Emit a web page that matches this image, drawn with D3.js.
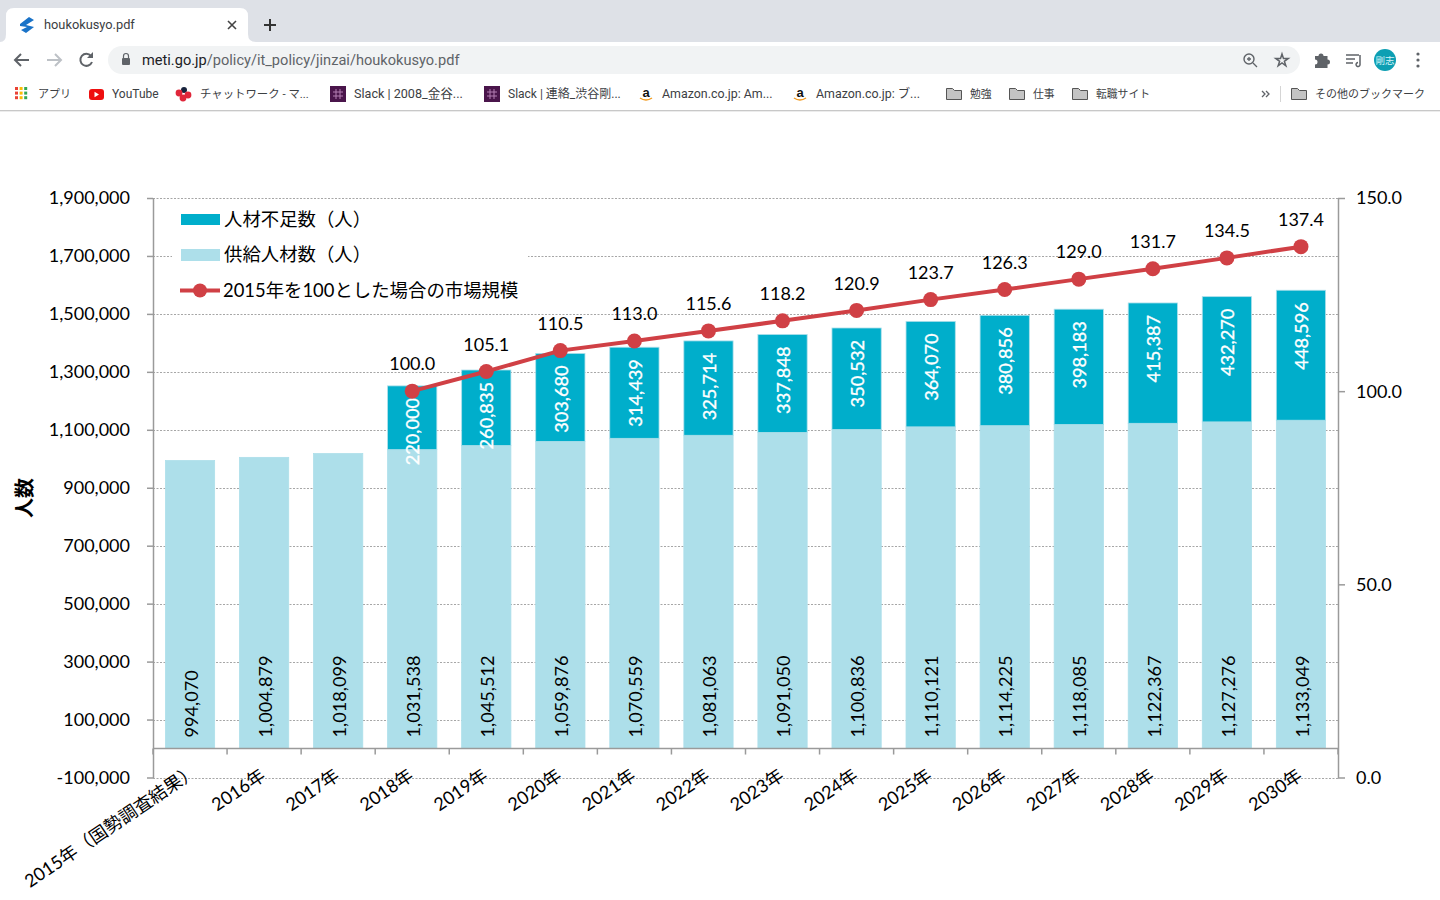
<!DOCTYPE html>
<html lang="ja">
<head>
<meta charset="utf-8">
<title>houkokusyo.pdf</title>
<script src="https://cdn.jsdelivr.net/npm/d3@7/dist/d3.min.js"></script>
<style>
html,body{margin:0;padding:0;background:#fff;overflow:hidden}
svg{display:block}
.ch{font-family:Lato,"Noto Sans CJK JP",sans-serif;fill:#000}
.ui{font-family:Roboto,"Noto Sans CJK JP",sans-serif;fill:#3c4043}
</style>
</head>
<body>
<svg id="c" width="1440" height="900"></svg>
<script>
// ---- chart data ----
const categories = ["2015年（国勢調査結果）","2016年","2017年","2018年","2019年","2020年","2021年","2022年","2023年","2024年","2025年","2026年","2027年","2028年","2029年","2030年"];
const supply = [994070,1004879,1018099,1031538,1045512,1059876,1070559,1081063,1091050,1100836,1110121,1114225,1118085,1122367,1127276,1133049];
const shortage = [null,null,null,220000,260835,303680,314439,325714,337848,350532,364070,380856,398183,415387,432270,448596];
const market = [null,null,null,100.0,105.1,110.5,113.0,115.6,118.2,120.9,123.7,126.3,129.0,131.7,134.5,137.4];
const leftTicks = [-100000,100000,300000,500000,700000,900000,1100000,1300000,1500000,1700000,1900000];
const leftTickLabels = ["-100,000","100,000","300,000","500,000","700,000","900,000","1,100,000","1,300,000","1,500,000","1,700,000","1,900,000"];
const rightTicks = [0,50,100,150];
const legendLabels = ["人材不足数（人）","供給人材数（人）","2015年を100とした場合の市場規模"];
const yAxisTitle = "人数";
// ---- browser frame text ----
const bookmarkLabels = ["アプリ","YouTube","チャットワーク - マ...","Slack | 2008_金谷...","Slack | 連絡_渋谷剛...","Amazon.co.jp: Am...","Amazon.co.jp: ブ...","勉強","仕事","転職サイト","その他のブックマーク"];
const tabTitle = "houkokusyo.pdf";
const urlHost = "meti.go.jp";
const urlPath = "/policy/it_policy/jinzai/houkokusyo.pdf";

const COL_SHORT="#00aecb", COL_SUP="#addfea", COL_LINE="#d04045", COL_AXIS="#9a9a9a", COL_GRID="#a6a6a6";
const svg=d3.select("#c");

/* ---------- browser frame ---------- */
const ui=svg.append("g");
ui.append("rect").attr("width",1440).attr("height",42).attr("fill","#dee1e7");
ui.append("path").attr("d","M0 42 Q6 42 6 34 V16 Q6 8 14 8 H240 Q248 8 248 16 V34 Q248 42 256 42 Z").attr("fill","#fff");
ui.append("rect").attr("y",42).attr("width",1440).attr("height",68).attr("fill","#fff");
ui.append("rect").attr("x",108).attr("y",46).attr("width",1192).attr("height",28).attr("rx",14).attr("fill","#f1f3f4");
ui.append("rect").attr("y",110).attr("width",1440).attr("height",1).attr("fill","#c8c8c8");
ui.append("rect").attr("y",111).attr("width",1440).attr("height",1).attr("fill","#ececec");
// favicon
ui.append("path").attr("d","M20 24 L29 17 L34 20 L26 25 L34 27 L26 33 L21 30 L27 27 L20 26 Z").attr("fill","#1a73c8");
ui.append("text").attr("class","ui").attr("x",44).attr("y",29).attr("font-size",12.8).text(tabTitle);
ui.append("path").attr("d","M228 21 l8 8 m0 -8 l-8 8").attr("stroke","#444").attr("stroke-width",1.6).attr("fill","none");
ui.append("path").attr("d","M270 19 v12 m-6 -6 h12").attr("stroke","#333").attr("stroke-width",2).attr("fill","none");
// nav
ui.append("path").attr("d","M29 60 H16 m5 -6 l-6 6 l6 6").attr("stroke","#5f6368").attr("stroke-width",2).attr("fill","none");
ui.append("path").attr("d","M47 60 H60 m-5 -6 l6 6 l-6 6").attr("stroke","#bdc1c6").attr("stroke-width",2).attr("fill","none");
ui.append("path").attr("d","M91 56 A6 6 0 1 0 92 62").attr("stroke","#5f6368").attr("stroke-width",2).attr("fill","none");
ui.append("path").attr("d","M93 52 v6 h-6 Z").attr("fill","#5f6368");
ui.append("rect").attr("x",122).attr("y",58).attr("width",8).attr("height",7).attr("rx",1).attr("fill","#5f6368");
ui.append("path").attr("d","M123.5 58 v-2 a2.5 2.5 0 0 1 5 0 v2").attr("stroke","#5f6368").attr("stroke-width",1.2).attr("fill","none");
const urlText=ui.append("text").attr("class","ui").attr("x",142).attr("y",65).attr("font-size",14.6);
urlText.append("tspan").style("fill","#202124").text(urlHost);
urlText.append("tspan").style("fill","#5f6368").text(urlPath);
// right tools
ui.append("circle").attr("cx",1249).attr("cy",59).attr("r",5).attr("fill","none").attr("stroke","#5f6368").attr("stroke-width",1.4);
ui.append("path").attr("d","M1253 63 l4 4 M1247 59 h4 M1249 57 v4").attr("stroke","#5f6368").attr("stroke-width",1.3);
ui.append("path").attr("d",d3.symbol(d3.symbolStar,48)()).attr("transform","translate(1282,60.5)").attr("fill","none").attr("stroke","#5f6368").attr("stroke-width",1.5);
ui.append("path").attr("d","M1315 56 h3.5 a2.5 2.5 0 0 1 5 0 h4 v3.5 a2.5 2.5 0 0 1 0 5 v3.5 h-12.5 v-3.5 a2.5 2.5 0 0 0 0 -5 Z").attr("fill","#5f6368");
ui.append("path").attr("d","M1346 55 h13 M1346 59 h9 M1346 63 h7 M1360 55 v9 a2 2 0 1 1 -2 -1.5").attr("stroke","#5f6368").attr("stroke-width",1.5).attr("fill","none");
ui.append("circle").attr("cx",1385).attr("cy",60).attr("r",11).attr("fill","#0d9fb3");
ui.append("text").attr("class","ui").attr("x",1385).attr("y",64).attr("text-anchor","middle").attr("font-size",9.5).style("fill","#d8f4f8").text("剛志");
ui.selectAll("circle.dot").data([54,60,66]).join("circle").attr("class","dot").attr("cx",1418).attr("cy",d=>d).attr("r",1.6).attr("fill","#5f6368");
// bookmarks
const bmX=[38,112,200,354,508,662,816,970,1033,1096,1315];
const bmSize=[11,12,11.4,12.6,12,12.4,12.4,10.8,10.8,10.8,11];
ui.selectAll("text.bm").data(bookmarkLabels).join("text").attr("class","ui bm")
  .attr("x",(d,i)=>bmX[i]).attr("y",98).attr("font-size",(d,i)=>bmSize[i]).text(d=>d);
// apps grid
const gridCols=["#e94235","#fbbc04","#34a853","#4285f4"];
d3.range(9).forEach(i=>ui.append("rect").attr("x",15+(i%3)*4.6).attr("y",87+Math.floor(i/3)*4.6).attr("width",3).attr("height",3).attr("fill",gridCols[(i+Math.floor(i/3))%4]));
// youtube
ui.append("rect").attr("x",89).attr("y",89).attr("width",15).attr("height",11).attr("rx",3).attr("fill","#ee0f0f");
ui.append("path").attr("d","M94.5 91.8 l4.5 2.7 l-4.5 2.7 Z").attr("fill","#fff");
// chatwork
[[184,90,"#17233c",3],[179,93,"#e0263a",3.4],[188,95,"#e0263a",3.4],[183,98,"#e0263a",3.4]].forEach(a=>ui.append("circle").attr("cx",a[0]).attr("cy",a[1]).attr("r",a[3]).attr("fill",a[2]));
// slack
[484,330].forEach(x=>{
  ui.append("rect").attr("x",x).attr("y",86).attr("width",16).attr("height",16).attr("fill","#4a154b");
  ui.append("path").attr("d",`M${x+6} 89 v10 M${x+10} 89 v10 M${x+3} 92 h10 M${x+3} 96 h10`).attr("stroke","#b37fb3").attr("stroke-width",1);
});
// amazon
[646,800].forEach(x=>{
  ui.append("text").attr("x",x).attr("y",97).attr("text-anchor","middle").attr("font-family","Liberation Sans").attr("font-weight","bold").attr("font-size",13).attr("fill","#111").text("a");
  ui.append("path").attr("d",`M${x-6} 98 q6 4 12 0`).attr("stroke","#f29a1f").attr("stroke-width",1.5).attr("fill","none");
});
// folders
[946,1009,1072,1291].forEach(x=>{
  ui.append("path").attr("d",`M${x+.5} 88.5 h6 l2 2 h7 v9 h-15 Z`).attr("fill","#c4c4c4").attr("stroke","#555").attr("stroke-width",1);
});
ui.append("path").attr("d","M1262 91 l3 3 l-3 3 M1266 91 l3 3 l-3 3").attr("stroke","#5f6368").attr("stroke-width",1.3).attr("fill","none");
ui.append("rect").attr("x",1280).attr("y",86).attr("width",1).attr("height",16).attr("fill","#d5d5d5");

/* ---------- chart ---------- */
const plot={left:153,right:1338,top:198,bottom:777.5};
const yL=d3.scaleLinear().domain([-100000,1900000]).range([plot.bottom,plot.top]);
const yR=d3.scaleLinear().domain([0,150]).range([plot.bottom,plot.top]);
const x=d3.scaleBand().domain(categories).range([plot.left,plot.right]).paddingInner(0.335).paddingOuter(0.1675);
const cx=c=>x(c)+x.bandwidth()/2;
const chart=svg.append("g").attr("class","ch");

// gridlines
chart.append("g").selectAll("line").data(leftTicks).join("line")
  .attr("x1",plot.left).attr("x2",plot.right).attr("y1",d=>Math.round(yL(d))+.5).attr("y2",d=>Math.round(yL(d))+.5)
  .attr("stroke",COL_GRID).attr("stroke-width",1).attr("stroke-dasharray","2 1.5");

// stacked bars
const rows=categories.map((c,i)=>({c,supply:supply[i],shortage:shortage[i]||0}));
const stacked=d3.stack().keys(["supply","shortage"])(rows);
const fills={supply:COL_SUP,shortage:COL_SHORT};
chart.append("g").selectAll("g").data(stacked).join("g").attr("fill",d=>fills[d.key])
  .attr("stroke",COL_SUP).attr("stroke-width",.8)
  .selectAll("rect").data(d=>d.filter(p=>p[1]>p[0])).join("rect")
  .attr("x",d=>x(d.data.c)).attr("width",x.bandwidth())
  .attr("y",d=>yL(d[1])).attr("height",d=>yL(d[0])-yL(d[1]));

// baseline and category ticks
const axisY=yL(0);
chart.append("line").attr("x1",plot.left).attr("x2",plot.right).attr("y1",axisY).attr("y2",axisY).attr("stroke",COL_AXIS).attr("stroke-width",1.5);
chart.append("g").selectAll("line").data(d3.range(categories.length+1)).join("line")
  .attr("x1",d=>plot.left+d*x.step()).attr("x2",d=>plot.left+d*x.step())
  .attr("y1",axisY).attr("y2",axisY+6).attr("stroke",COL_AXIS).attr("stroke-width",1.5);

// left axis
const axL=chart.append("g").attr("transform",`translate(${plot.left},0)`)
  .call(d3.axisLeft(yL).tickValues(leftTicks).tickSize(6).tickSizeOuter(0).tickFormat((d,i)=>leftTickLabels[i]));
// right axis
const axR=chart.append("g").attr("transform",`translate(${plot.right},0)`)
  .call(d3.axisRight(yR).tickValues(rightTicks).tickSize(7).tickSizeOuter(0).tickFormat(d3.format(".1f")));
[axL,axR].forEach(a=>{
  a.attr("font-family",null).attr("font-size",null);
  a.selectAll("path.domain").attr("stroke",COL_AXIS).attr("stroke-width",1.5);
  a.selectAll(".tick line").attr("stroke",COL_AXIS).attr("stroke-width",1.5);
  a.selectAll(".tick text").attr("font-size",18).attr("fill","#000");
});
axL.selectAll(".tick text").attr("x",-23).attr("dy","0.33em");
axR.selectAll(".tick text").attr("x",18).attr("dy","0.33em");

// category labels (a full-width closing bracket carries blank space on its right)
chart.append("g").selectAll("text").data(categories).join("text")
  .attr("text-anchor","end").attr("font-size",18)
  .attr("transform",d=>`translate(${cx(d)-5.5},${plot.bottom-11}) rotate(-34)`)
  .attr("dx",d=>d.endsWith("）")?"0.42em":0)
  .attr("dy","0.8em").text(d=>d);

// axis title
chart.append("text").attr("transform","translate(25,498) rotate(-90)").attr("text-anchor","middle").attr("dy","0.36em")
  .attr("font-size",20).attr("font-weight","bold").text(yAxisTitle);

// value labels
chart.append("g").selectAll("text").data(rows).join("text")
  .attr("transform",d=>`translate(${cx(d.c)+1.5},${yL(0)-11}) rotate(-90)`)
  .attr("dy","0.34em").attr("font-size",18.2).attr("fill","#000").text(d=>d3.format(",")(d.supply));
chart.append("g").selectAll("text").data(rows.filter(d=>d.shortage)).join("text")
  .attr("transform",d=>`translate(${cx(d.c)+1},${yL(d.supply+d.shortage)+12}) rotate(-90)`)
  .attr("text-anchor","end").attr("dy","0.34em").attr("font-size",18.2).attr("fill","#fff")
  .attr("stroke","#fff").attr("stroke-width",.35).text(d=>d3.format(",")(d.shortage));

// legend backing
chart.append("rect").attr("x",172).attr("y",205).attr("width",356).attr("height",100).attr("fill","#fff");

// market line
const pts=categories.map((c,i)=>({c,v:market[i]})).filter(d=>d.v!=null);
chart.append("path").datum(pts).attr("fill","none").attr("stroke",COL_LINE).attr("stroke-width",4)
  .attr("d",d3.line().x(d=>cx(d.c)).y(d=>yR(d.v)));
chart.append("g").selectAll("circle").data(pts).join("circle").attr("cx",d=>cx(d.c)).attr("cy",d=>yR(d.v)).attr("r",7.5).attr("fill",COL_LINE);
chart.append("g").selectAll("text").data(pts).join("text")
  .attr("x",d=>cx(d.c)).attr("y",d=>yR(d.v)-27).attr("dy","0.34em").attr("text-anchor","middle").attr("font-size",18)
  .text(d=>d3.format(".1f")(d.v));

// legend
const lg=chart.append("g");
lg.append("rect").attr("x",181).attr("y",214).attr("width",39).attr("height",11).attr("fill",COL_SHORT);
lg.append("rect").attr("x",181).attr("y",249).attr("width",39).attr("height",12).attr("fill",COL_SUP);
lg.append("line").attr("x1",180).attr("x2",220).attr("y1",290.5).attr("y2",290.5).attr("stroke",COL_LINE).attr("stroke-width",4);
lg.append("circle").attr("cx",200).attr("cy",290.5).attr("r",7).attr("fill",COL_LINE);
lg.selectAll("text").data(legendLabels).join("text")
  .attr("x",(d,i)=>i==2?223:224).attr("y",(d,i)=>[219,254,290][i]).attr("dy","0.36em").attr("font-size",18.4).text(d=>d);
</script>
</body>
</html>
